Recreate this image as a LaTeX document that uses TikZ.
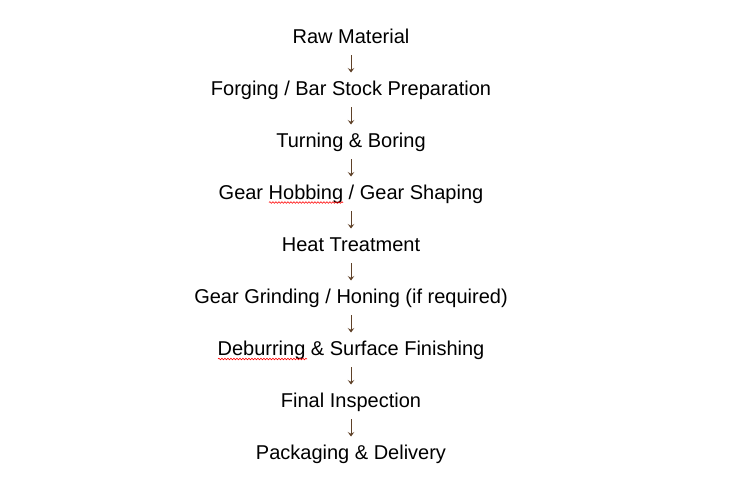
\documentclass[tikz,border=0pt]{standalone}
\usepackage{fontspec}
\setmainfont{Liberation Sans}
\usetikzlibrary{decorations.pathmorphing,arrows.meta}
\definecolor{arrowc}{RGB}{95,65,40}
\begin{document}
\begin{tikzpicture}[x=1pt,y=-1pt,
  stepnode/.style={anchor=base,inner sep=0pt,font=\fontsize{20}{24}\selectfont},
  flowarrow/.style={draw=arrowc,line width=0.9pt,-{Stealth[length=4.5pt,width=6.5pt,inset=1.8pt]}},
  squiggle/.style={draw=red,line width=0.6pt,decorate,decoration={snake,amplitude=0.8pt,segment length=3pt}}]
\useasboundingbox (0,0) rectangle (731,477);
\node[stepnode] (s1) at (351,43.5) {Raw Material};
\node[stepnode] (s2) at (351,95.5) {Forging / Bar Stock Preparation};
\node[stepnode] (s3) at (351,147.5) {Turning \& Boring};
\node[stepnode] (s4) at (351,199.5) {Gear Hobbing / Gear Shaping};
\node[stepnode] (s5) at (351,251.5) {Heat Treatment};
\node[stepnode] (s6) at (351,303.5) {Gear Grinding / Honing (if required)};
\node[stepnode] (s7) at (351,355.5) {Deburring \& Surface Finishing};
\node[stepnode] (s8) at (351,407.5) {Final Inspection};
\node[stepnode] (s9) at (351,459.5) {Packaging \& Delivery};
\foreach \a/\b in {s1/s2,s2/s3,s3/s4,s4/s5,s5/s6,s6/s7,s7/s8,s8/s9}{
  \draw[flowarrow] ([yshift=-11.5pt]\a.base) -- ([yshift=23pt]\b.base);
}
\coordinate (h1) at (269,202.5);
\coordinate (h2) at (343,202.5);
\coordinate (d1) at (218,359);
\coordinate (d2) at (307,359);
\draw[squiggle] (h1) -- (h2);
\draw[squiggle] (d1) -- (d2);
\end{tikzpicture}
\end{document}
